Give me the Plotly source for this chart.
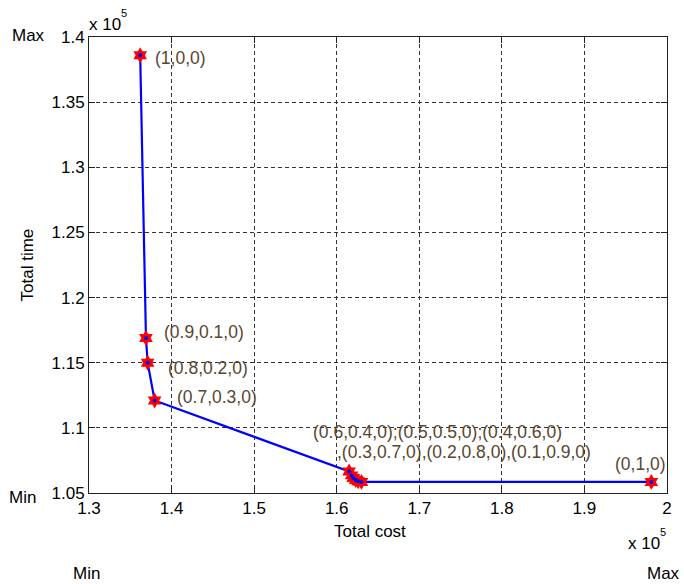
import plotly.graph_objects as go

# ---- data (actual units) ----
total_cost = [136200, 136900, 137100, 137950, 161500, 161800, 162000, 162300, 162600, 163000, 198100]
total_time = [138600, 116900, 115000, 112100, 106650, 106350, 106150, 106000, 105900, 105850, 105850]

x_tick_vals = [130000, 140000, 150000, 160000, 170000, 180000, 190000, 200000]
x_tick_text = ["1.3", "1.4", "1.5", "1.6", "1.7", "1.8", "1.9", "2"]
y_tick_vals = [105000, 110000, 115000, 120000, 125000, 130000, 135000, 140000]
y_tick_text = ["1.05", "1.1", "1.15", "1.2", "1.25", "1.3", "1.35", "1.4"]

# point labels: (index of anchor point, text, xshift, yshift)
point_labels = [
    (0, "(1,0,0)", 14, -3),
    (1, "(0.9,0.1,0)", 17, 6),
    (2, "(0.8,0.2,0)", 19, -5),
    (3, "(0.7,0.3,0)", 21, 4),
    (4, "(0.6,0.4,0);(0.5,0.5,0);(0.4,0.6,0)", -37, 39.5),
    (4, ",(0.3,0.7,0),(0.2,0.8,0),(0.1,0.9,0)", -13, 19.5),
    (10, "(0,1,0)", -37, 18),
]

FONT = "Liberation Sans, Arial, sans-serif"
LABEL_COLOR = "#5a4630"

# plot-area in pixels
L, R, T, B = 89, 671, 37, 493
W, H = 684, 584


def px(X):
    return (X - L) / (R - L)


def py(Y):
    return (B - Y) / (B - T)


fig = go.Figure()
fig.add_trace(go.Scatter(
    x=total_cost, y=total_time, mode="lines",
    line=dict(color="#0000ff", width=2.2), showlegend=False, hoverinfo="skip"))
fig.add_trace(go.Scatter(
    x=total_cost, y=total_time, mode="markers",
    marker=dict(symbol="hexagram", size=12, color="#ff0000", line=dict(width=0)),
    showlegend=False, hoverinfo="skip"))
fig.add_trace(go.Scatter(
    x=total_cost, y=total_time, mode="markers",
    marker=dict(symbol="circle", size=4, color="#0000ff", line=dict(width=0)),
    showlegend=False, hoverinfo="skip"))

annotations = []
for idx, txt, dx, dy in point_labels:
    annotations.append(dict(
        x=total_cost[idx], y=total_time[idx], xref="x", yref="y",
        text=txt, showarrow=False, xanchor="left", yanchor="middle", borderpad=0,
        xshift=dx, yshift=dy, font=dict(family=FONT, size=17.5, color=LABEL_COLOR)))

# axis titles
annotations.append(dict(x=px(27), y=py(265), xref="paper", yref="paper", text="Total time",
                        textangle=-90, showarrow=False, xanchor="center", yanchor="middle",
                        font=dict(family=FONT, size=17, color="#000")))
annotations.append(dict(x=px(372), y=py(531), xref="paper", yref="paper", text="Total cost",
                        showarrow=False, xanchor="center", yanchor="middle",
                        font=dict(family=FONT, size=17, color="#000")))
# exponents ("x 10" and superscript "5")
for X, Y, t, s in [(87, 24, "x 10", 17), (119, 13, "5", 11),
                   (630, 543, "x 10", 17), (662, 532, "5", 11)]:
    annotations.append(dict(x=px(X), y=py(Y), xref="paper", yref="paper", text=t,
                            showarrow=False, xanchor="left", yanchor="middle",
                            font=dict(family=FONT, size=s, color="#000")))
# Min / Max
for X, Y, t in [(28, 36, "Max"), (22, 497, "Min"), (86, 573, "Min"), (667, 573, "Max")]:
    annotations.append(dict(x=px(X), y=py(Y), xref="paper", yref="paper", text=t,
                            showarrow=False, xanchor="center", yanchor="middle",
                            font=dict(family=FONT, size=17, color="#000")))

axis_common = dict(
    showline=True, linecolor="#222", linewidth=1, mirror="ticks",
    ticks="inside", ticklen=6, tickcolor="#222",
    showgrid=True, gridcolor="#333", gridwidth=1, griddash="4px,3px",
    zeroline=False, tickfont=dict(family=FONT, size=17, color="#000"),
)

fig.update_xaxes(range=[130000, 200000], tickvals=x_tick_vals, ticktext=x_tick_text, **axis_common)
fig.update_yaxes(range=[105000, 140000], tickvals=y_tick_vals, ticktext=y_tick_text, **axis_common)

fig.update_layout(
    width=W, height=H,
    margin=dict(l=L, r=W - R, t=T, b=H - B),
    paper_bgcolor="white", plot_bgcolor="white",
    annotations=annotations,
)

fig.write_html("out.html")
